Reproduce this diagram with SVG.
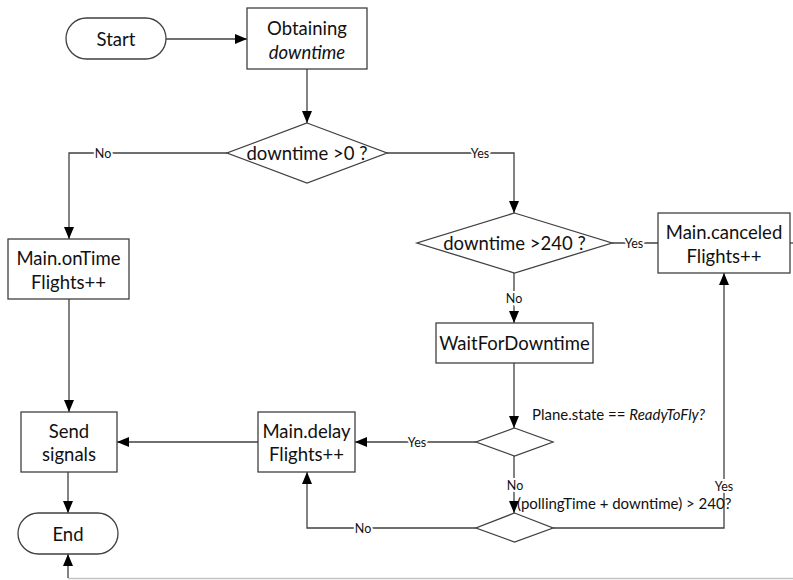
<svg xmlns="http://www.w3.org/2000/svg" width="793" height="580" viewBox="0 0 793 580">
<defs>
<style>
.box{fill:#fff;stroke:#404040;stroke-width:1.3}
.ln{fill:none;stroke:#404040;stroke-width:1.3}
.t{font-family:Lato,"Liberation Sans",sans-serif;font-size:18.5px;fill:#111;text-anchor:middle;dominant-baseline:central}
.lb{font-family:Lato,"Liberation Sans",sans-serif;font-size:12.5px;fill:#111;text-anchor:middle;dominant-baseline:central;stroke:#fff;stroke-width:4;paint-order:stroke}
.sm{font-family:Lato,"Liberation Sans",sans-serif;font-size:15px;fill:#111;dominant-baseline:central}
</style>
<marker id="ar" viewBox="0 0 12 10" refX="12" refY="5" markerWidth="12" markerHeight="10" markerUnits="userSpaceOnUse" orient="auto">
<path d="M0,0 L12,5 L0,10 Z" fill="#000"/>
</marker>
</defs>
<g id="connectors">
<path class="ln" d="M166,39 H247" marker-end="url(#ar)"/>
<path class="ln" d="M307,69 V123" marker-end="url(#ar)"/>
<path class="ln" d="M227,153 H69 V239" marker-end="url(#ar)"/>
<path class="ln" d="M387,153 H514 V213" marker-end="url(#ar)"/>
<path class="ln" d="M612,243 H658"/>
<path class="ln" d="M514,273 V323" marker-end="url(#ar)"/>
<path class="ln" d="M69,299 V412" marker-end="url(#ar)"/>
<path class="ln" d="M514,363 V428" marker-end="url(#ar)"/>
<path class="ln" d="M476,442 H355" marker-end="url(#ar)"/>
<path class="ln" d="M258,442 H117" marker-end="url(#ar)"/>
<path class="ln" d="M514,456 V513" marker-end="url(#ar)"/>
<path class="ln" d="M476,528 H307 V472" marker-end="url(#ar)"/>
<path class="ln" d="M553,528 H724 V273" marker-end="url(#ar)"/>
<path class="ln" d="M68,472 V513" marker-end="url(#ar)"/>
<path class="ln" d="M790,243 H793"/>
<path fill="none" stroke="#c4c4c4" stroke-width="1.3" d="M793,578.5 H68"/>
<path class="ln" d="M68,578 V554" marker-end="url(#ar)"/>
<text class="lb" x="103" y="153">No</text>
<text class="lb" x="480" y="153">Yes</text>
<text class="lb" x="634" y="243">Yes</text>
<text class="lb" x="514" y="298">No</text>
<text class="lb" x="417" y="442">Yes</text>
<text class="lb" x="515" y="485">No</text>
<text class="lb" x="363" y="528">No</text>
<text class="lb" x="724" y="486">Yes</text>
</g>
<g id="start"><rect class="box" x="66" y="18" width="100" height="41" rx="20.5"/><text class="t" x="116" y="39">Start</text></g>
<g id="obtaining"><rect class="box" x="247" y="8" width="120" height="61"/><text class="t" x="307" y="28">Obtaining</text><text class="t" x="307" y="52" font-style="italic">downtime</text></g>
<g id="d1"><polygon class="box" points="307,123 387,153 307,183 227,153"/><text class="t" x="307" y="153">downtime &gt;0 ?</text></g>
<g id="d2"><polygon class="box" points="514.5,213 612,243 514.5,273 417,243"/><text class="t" x="514.5" y="243">downtime &gt;240 ?</text></g>
<g id="canceled"><rect class="box" x="658" y="213" width="132" height="60"/><text class="t" x="724" y="232">Main.canceled</text><text class="t" x="724" y="256">Flights++</text></g>
<g id="ontime"><rect class="box" x="8" y="239" width="121" height="60"/><text class="t" x="68.5" y="258">Main.onTime</text><text class="t" x="68.5" y="282">Flights++</text></g>
<g id="wait"><rect class="box" x="436" y="323" width="157" height="40"/><text class="t" x="514.5" y="343">WaitForDowntime</text></g>
<g id="d3"><polygon class="box" points="514.5,428 553,442 514.5,456 476,442"/><text class="sm" x="532" y="414">Plane.state == <tspan font-style="italic">ReadyToFly?</tspan></text></g>
<g id="d4"><polygon class="box" points="514.5,513 553,528 514.5,542 476,528"/><text class="sm" x="517" y="503">(pollingTime + downtime) &gt; 240?</text></g>
<g id="send"><rect class="box" x="21" y="412" width="96" height="60"/><text class="t" x="69" y="431">Send</text><text class="t" x="69" y="454">signals</text></g>
<g id="delay"><rect class="box" x="258" y="412" width="97" height="60"/><text class="t" x="306.5" y="431">Main.delay</text><text class="t" x="306.5" y="454">Flights++</text></g>
<g id="end"><rect class="box" x="18" y="513" width="100" height="41" rx="20.5"/><text class="t" x="68" y="533.5">End</text></g>
</svg>
